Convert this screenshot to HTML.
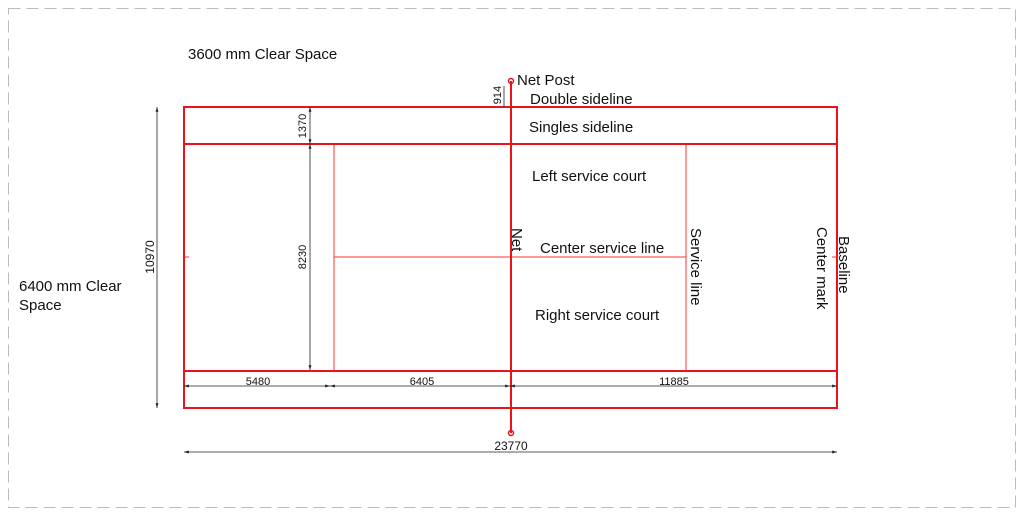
<!DOCTYPE html>
<html><head><meta charset="utf-8"><style>
html,body{margin:0;padding:0;background:#fff;width:1024px;height:516px;overflow:hidden}
svg{display:block}
text{font-family:"Liberation Sans",sans-serif;fill:#111}
</style></head><body>
<svg width="1024" height="516" viewBox="0 0 1024 516" xmlns="http://www.w3.org/2000/svg">
<defs>
<marker id="a" viewBox="0 0 10 10" refX="10" refY="5" markerWidth="6" markerHeight="6" orient="auto-start-reverse"><path d="M0,2 L10,5 L0,8 z" fill="#222"/></marker>
</defs>
<rect x="8.5" y="8.5" width="1007" height="499" fill="none" stroke="#bbb" stroke-width="1" stroke-dasharray="12,6"/>
<text x="188" y="59" font-size="15">3600 mm Clear Space</text>
<text x="19" y="291" font-size="15">6400 mm Clear</text>
<text x="19" y="310" font-size="15">Space</text>
<g stroke="#f33" stroke-width="1" fill="none">
<line x1="334" y1="144" x2="334" y2="371"/>
<line x1="686" y1="144" x2="686" y2="371"/>
<line x1="334" y1="257" x2="686" y2="257"/>
<line x1="184" y1="257" x2="189" y2="257"/>
<line x1="832" y1="257" x2="837" y2="257"/>
</g>
<g stroke="#e8131b" stroke-width="2" fill="none">
<rect x="184" y="107" width="653" height="301"/>
<line x1="184" y1="144" x2="837" y2="144"/>
<line x1="184" y1="371" x2="837" y2="371"/>
<line x1="511" y1="81" x2="511" y2="433"/>
</g>
<circle cx="511" cy="81" r="2.5" fill="none" stroke="#e8131b" stroke-width="1.5"/>
<circle cx="511" cy="433" r="2.5" fill="none" stroke="#e8131b" stroke-width="1.5"/>
<g stroke="#222" stroke-width="0.8" fill="none">
<line x1="157" y1="107" x2="157" y2="408" marker-start="url(#a)" marker-end="url(#a)"/>
<line x1="310" y1="107" x2="310" y2="144" marker-start="url(#a)" marker-end="url(#a)"/>
<line x1="310" y1="144" x2="310" y2="370" marker-start="url(#a)" marker-end="url(#a)"/>
<line x1="504" y1="86" x2="504" y2="107"/>
<line x1="184" y1="386" x2="330" y2="386" marker-start="url(#a)" marker-end="url(#a)"/>
<line x1="330" y1="386" x2="510" y2="386" marker-start="url(#a)" marker-end="url(#a)"/>
<line x1="510" y1="386" x2="837" y2="386" marker-start="url(#a)" marker-end="url(#a)"/>
<line x1="184" y1="452" x2="837" y2="452" marker-start="url(#a)" marker-end="url(#a)"/>
</g>
<g font-size="11">
<text x="154" y="257" transform="rotate(-90 154 257)" text-anchor="middle" font-size="12">10970</text>
<text x="306" y="126" transform="rotate(-90 306 126)" text-anchor="middle">1370</text>
<text x="306" y="257" transform="rotate(-90 306 257)" text-anchor="middle">8230</text>
<text x="501" y="95" transform="rotate(-90 501 95)" text-anchor="middle">914</text>
<text x="258" y="385" text-anchor="middle">5480</text>
<text x="422" y="385" text-anchor="middle">6405</text>
<text x="674" y="385" text-anchor="middle">11885</text>
<text x="511" y="450" text-anchor="middle" font-size="12">23770</text>
</g>
<g font-size="15">
<text x="517" y="85">Net Post</text>
<text x="530" y="104">Double sideline</text>
<text x="529" y="132">Singles sideline</text>
<text x="532" y="181">Left service court</text>
<text x="540" y="253">Center service line</text>
<text x="535" y="320">Right service court</text>
<text x="512" y="228" transform="rotate(90 512 228)">Net</text>
<text x="691" y="228" transform="rotate(90 691 228)">Service line</text>
<text x="817" y="227" transform="rotate(90 817 227)">Center mark</text>
<text x="839" y="236" transform="rotate(90 839 236)">Baseline</text>
</g>
</svg>
</body></html>
